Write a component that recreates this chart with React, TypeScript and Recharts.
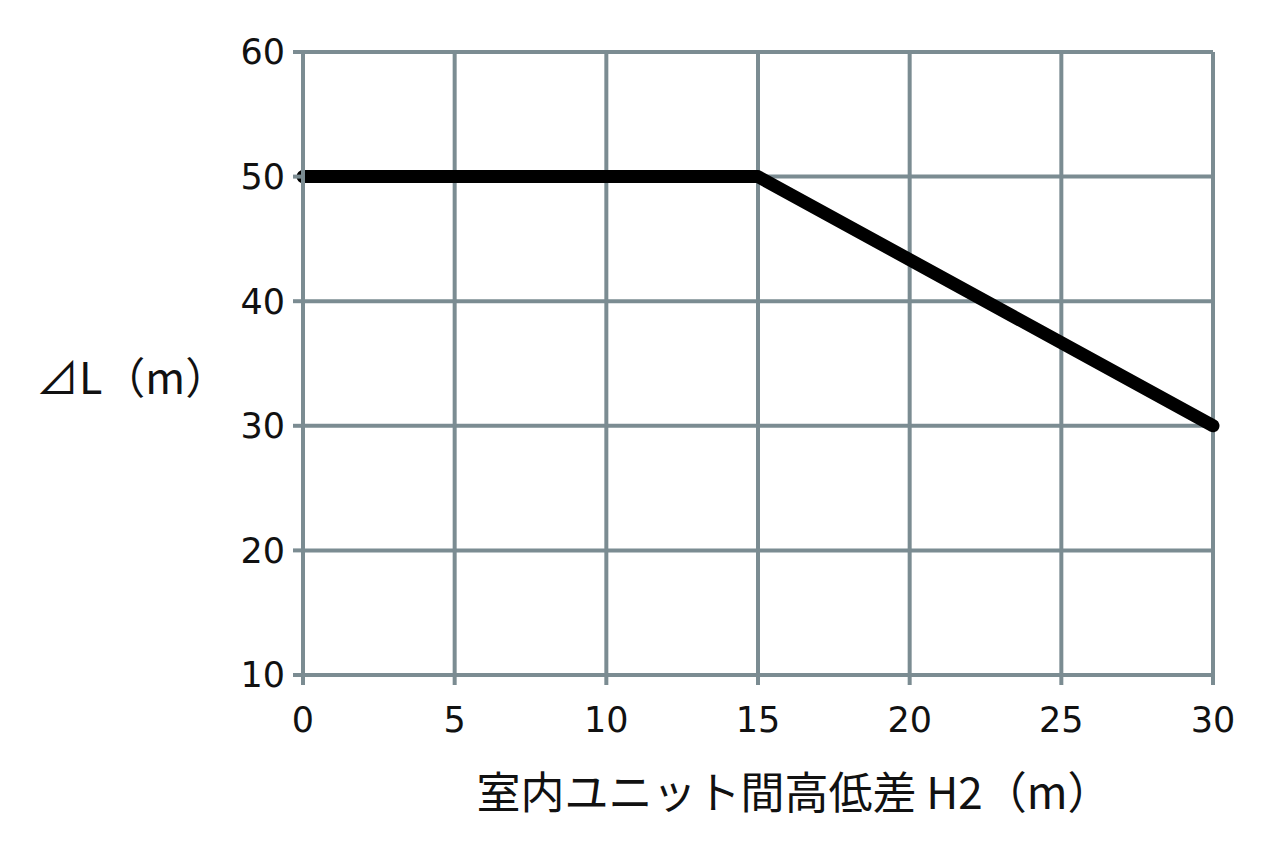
import { LineChart, Line, XAxis, YAxis, CartesianGrid } from "recharts";

// height difference between indoor units H2 (m)
const heightDiff = [0, 15, 30];
// allowable ΔL (m)
const deltaL = [50, 50, 30];

const xTicks = [0, 5, 10, 15, 20, 25, 30];
const yTicks = [10, 20, 30, 40, 50, 60];

const data = heightDiff.map((h, i) => ({ h, dl: deltaL[i] }));

const gridColor = "#7b8c92";
const numFont = '"DejaVu Sans", sans-serif';
const jpFont = '"Noto Sans CJK JP", "Noto Sans", sans-serif';

export default function App() {
  return (
    <div style={{ position: "fixed", left: 0, top: 0, background: "#fff" }}>
      <LineChart
        width={1280}
        height={857}
        data={data}
        margin={{ top: 52, right: 67, bottom: 0, left: 0 }}
      >
        <CartesianGrid stroke={gridColor} strokeWidth={4} />
        <XAxis
          type="number"
          dataKey="h"
          domain={[0, 30]}
          ticks={xTicks}
          interval={0}
          stroke={gridColor}
          strokeWidth={4}
          tickSize={10}
          tickMargin={22}
          tick={{ fill: "#111", fontSize: 35, fontFamily: numFont }}
          height={182}
          label={{
            value: "室内ユニット間高低差 H2（m）",
            position: "insideTop",
            offset: 103,
            dx: 36,
            fill: "#111",
            fontSize: 44,
            fontFamily: jpFont,
          }}
        />
        <YAxis
          type="number"
          domain={[10, 60]}
          ticks={yTicks}
          interval={0}
          width={303}
          stroke={gridColor}
          strokeWidth={4}
          tickSize={10}
          tickMargin={8}
          tick={{ fill: "#111", fontSize: 35, fontFamily: numFont }}
          label={{
            value: "⊿L（m）",
            position: "insideLeft",
            offset: 36,
            dy: 15,
            fill: "#111",
            fontSize: 43,
            fontFamily: jpFont,
          }}
        />
        <Line
          dataKey="dl"
          stroke="#000"
          strokeWidth={13}
          strokeLinecap="round"
          strokeLinejoin="round"
          dot={false}
          activeDot={false}
          isAnimationActive={false}
        />
      </LineChart>
    </div>
  );
}
